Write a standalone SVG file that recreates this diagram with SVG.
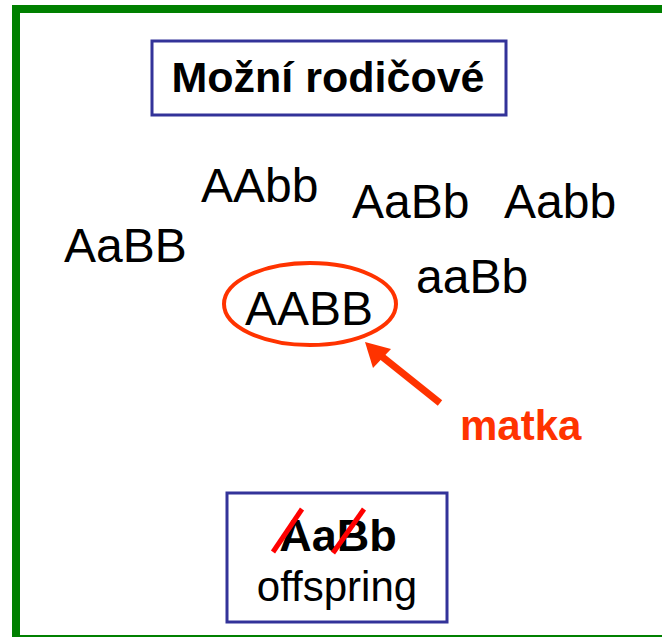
<svg xmlns="http://www.w3.org/2000/svg" width="662" height="637" viewBox="0 0 662 637">
<defs>
<style>
.g{font-family:"Liberation Sans",Arial,sans-serif;fill:#000}
.geno{font-size:48px}
.box{fill:#fff;stroke:#333399;stroke-width:3}
.red{stroke:#FF3300;fill:none}
.slash{stroke:#FF0000;stroke-width:5}
</style>
</defs>
<rect width="662" height="637" fill="#fff"/>
<g id="frame" fill="none" stroke="#008000">
<path d="M16,637 L16,9 L662,9" stroke-width="8"/>
<line x1="12" y1="636" x2="662" y2="636" stroke-width="2"/>
</g>
<g id="title">
<rect class="box" x="152" y="41" width="354" height="74"/>
<text class="g" x="328" y="92" font-size="43" font-weight="bold" text-anchor="middle">Možní rodičové</text>
</g>
<g id="AAbb"><text class="g geno" x="201" y="202">AAbb</text></g>
<g id="AaBb"><text class="g geno" x="352" y="218">AaBb</text></g>
<g id="Aabb"><text class="g geno" x="504" y="218">Aabb</text></g>
<g id="AaBB"><text class="g geno" x="64" y="262">AaBB</text></g>
<g id="aaBb"><text class="g geno" x="416" y="293">aaBb</text></g>
<g id="AABB">
<ellipse class="red" cx="310" cy="304" rx="86" ry="41" stroke-width="4"/>
<text class="g geno" x="245" y="325">AABB</text>
</g>
<g id="connectors">
<line x1="440" y1="403" x2="380" y2="355" stroke="#FF3300" stroke-width="7"/>
<polygon points="365,342 391,349 373,368" fill="#FF3300"/>
</g>
<g id="matka"><text x="460" y="440" font-family="Liberation Sans,Arial,sans-serif" font-size="42" font-weight="bold" fill="#FF3300">matka</text></g>
<g id="offspring">
<rect class="box" x="227" y="493" width="220" height="129"/>
<text class="g" x="338" y="551" font-size="45" font-weight="bold" text-anchor="middle">AaBb</text>
<text class="g" x="337" y="601" font-size="42" text-anchor="middle">offspring</text>
<line class="slash" x1="273" y1="552" x2="302" y2="509"/>
<line class="slash" x1="333" y1="553" x2="364" y2="509"/>
</g>
</svg>
